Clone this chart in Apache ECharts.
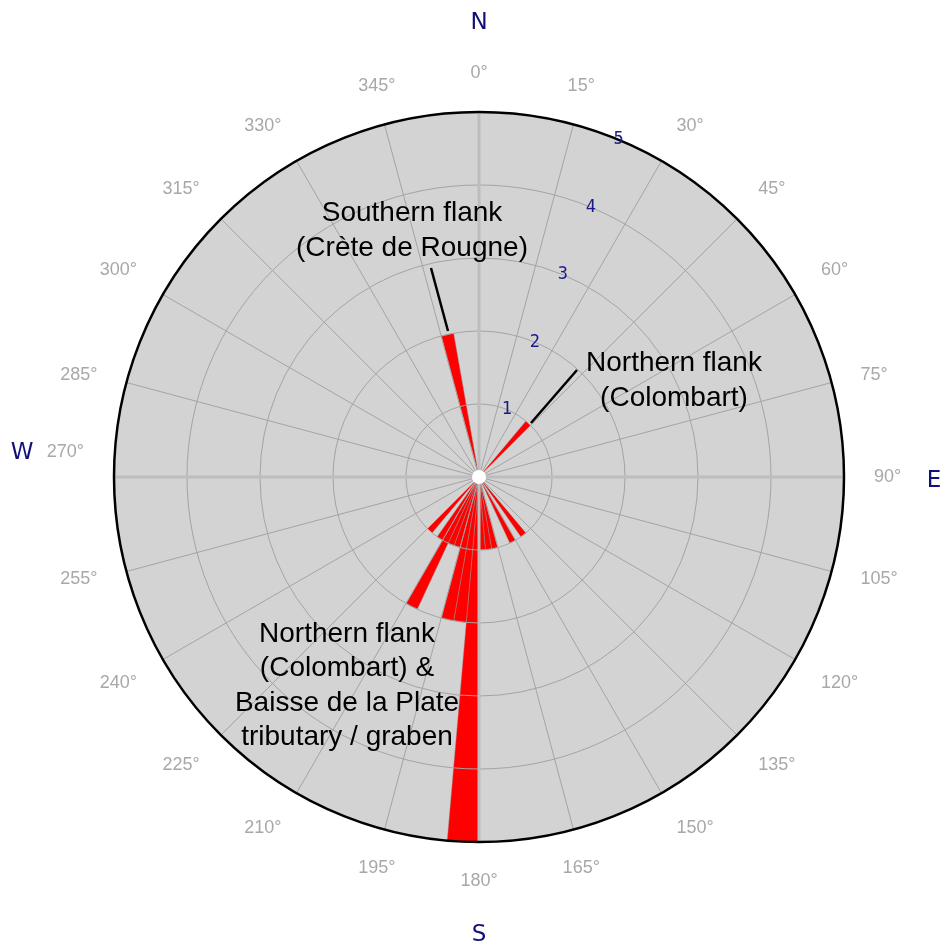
<!DOCTYPE html>
<html>
<head>
<meta charset="utf-8">
<script src="https://cdn.jsdelivr.net/npm/echarts@6/dist/echarts.min.js"></script>
<style>
  html, body { margin: 0; background: #fff; }
  #main { width: 944px; height: 945px; }
</style>
</head>
<body>
<div id="main"></div>
<script>
// rose diagram, 5 degree bins: start of each non-empty bin and its count
const binStart = [40, 140, 150, 165, 170, 175, 180, 185, 190, 195, 200, 205, 210, 220, 345];
const binCount = [1, 1, 1, 1, 1, 1, 5, 2, 2, 1, 1, 2, 1, 1, 2];
const compass = ['N', 'E', 'S', 'W'];
const notes = [
  'Southern flank\n(Crète de Rougne)',
  'Northern flank\n(Colombart)',
  'Northern flank\n(Colombart) &\nBaisse de la Plate\ntributary / graben'
];

const BIN = 5;
const cats = [];
for (let d = 0; d < 360; d += BIN) cats.push(String(d));
const counts = cats.map(function (d) {
  const i = binStart.indexOf(Number(d));
  return i < 0 ? 0 : binCount[i];
});

const C = [479, 477];
const R = 365;
const labelFont = "'Liberation Sans', Arial, sans-serif";

const hidden = {
  axisLine: { show: false }, axisTick: { show: false },
  axisLabel: { show: false }, splitLine: { show: false }
};

let chart = echarts.init(document.getElementById('main'));
chart.setOption({
  animation: false,
  polar: [0, 1, 2, 3, 4].map(function () { return { center: C, radius: R }; }),
  angleAxis: [
    // background disk
    Object.assign({}, hidden, {
      polarIndex: 0, type: 'value', min: 0, max: 360, interval: 90,
      startAngle: 90, clockwise: true, z: 0,
      splitArea: { show: true, areaStyle: { color: ['#d3d3d3'] } }
    }),
    // data bins
    Object.assign({}, hidden, {
      polarIndex: 1, type: 'category', data: cats, boundaryGap: true,
      startAngle: 90, clockwise: true
    }),
    // spokes, outer circle, degree labels (drawn above the bars)
    {
      polarIndex: 2, type: 'value', min: 0, max: 360, interval: 15,
      startAngle: 90, clockwise: true, z: 3,
      axisLine: { lineStyle: { color: '#000', width: 2.5 } },
      axisTick: { show: false },
      axisLabel: {
        margin: 30, color: '#a8a8a8', fontSize: 18, fontFamily: labelFont,
        formatter: function (v) {
          if (v === 360) return '';
          if (v === 270) return '{hi|270°}';
          return v + '°';
        },
        rich: { hi: { color: '#a8a8a8', fontSize: 18, fontFamily: labelFont, padding: [0, 0, 50, 0] } }
      },
      splitLine: { lineStyle: { color: '#a4a4a4', width: 1 } }
    },
    // N-S and E-W lines
    Object.assign({}, hidden, {
      polarIndex: 3, type: 'value', min: 0, max: 360, interval: 90,
      startAngle: 90, clockwise: true, z: 3,
      splitLine: { show: true, lineStyle: { color: '#bdbdbd', width: 3 } }
    }),
    // carrier for the radius labels, turned to 22.5 degrees
    Object.assign({}, hidden, {
      polarIndex: 4, type: 'value', min: 0, max: 360,
      startAngle: 67.5, clockwise: true
    })
  ],
  radiusAxis: [
    Object.assign({}, hidden, { polarIndex: 0, min: 0, max: 5 }),
    Object.assign({}, hidden, { polarIndex: 1, min: 0, max: 5 }),
    {
      polarIndex: 2, min: 0, max: 5, interval: 1, z: 3,
      axisLine: { show: false }, axisTick: { show: false }, axisLabel: { show: false },
      splitLine: { lineStyle: { color: '#a4a4a4', width: 1 } }
    },
    Object.assign({}, hidden, { polarIndex: 3, min: 0, max: 5 }),
    {
      polarIndex: 4, min: 0, max: 5, interval: 1, z: 4,
      axisLine: { show: false }, axisTick: { show: false }, splitLine: { show: false },
      axisLabel: {
        showMinLabel: false, margin: 0, color: '#1a1a86', fontSize: 17,
        fontFamily: "'DejaVu Sans Mono', monospace", align: 'center', verticalAlign: 'middle'
      }
    }
  ],
  series: [{
    type: 'bar',
    coordinateSystem: 'polar',
    polarIndex: 1,
    data: counts,
    barCategoryGap: '0%',
    z: 2,
    silent: true,
    itemStyle: { color: '#ff0000', borderColor: 'rgba(150,150,150,0.7)', borderWidth: 0.6 }
  }],
  graphic: [
    { type: 'circle', shape: { cx: C[0], cy: C[1], r: 7 }, style: { fill: '#fff' }, z: 10 },
    { type: 'text', x: 479, y: 23, style: { text: compass[0], font: "23px 'DejaVu Sans'", fill: '#10107a', align: 'center', verticalAlign: 'middle' }, z: 10 },
    { type: 'text', x: 934, y: 481, style: { text: compass[1], font: "23px 'DejaVu Sans'", fill: '#10107a', align: 'center', verticalAlign: 'middle' }, z: 10 },
    { type: 'text', x: 479, y: 935, style: { text: compass[2], font: "23px 'DejaVu Sans'", fill: '#10107a', align: 'center', verticalAlign: 'middle' }, z: 10 },
    { type: 'text', x: 22, y: 453, style: { text: compass[3], font: "23px 'DejaVu Sans'", fill: '#10107a', align: 'center', verticalAlign: 'middle' }, z: 10 },
    { type: 'text', x: 412, y: 231, style: { text: notes[0], font: "28px 'Liberation Sans'", lineHeight: 35, fill: '#000', align: 'center', verticalAlign: 'middle' }, z: 10 },
    { type: 'text', x: 674, y: 381, style: { text: notes[1], font: "28px 'Liberation Sans'", lineHeight: 35, fill: '#000', align: 'center', verticalAlign: 'middle' }, z: 10 },
    { type: 'text', x: 347, y: 686, style: { text: notes[2], font: "28px 'Liberation Sans'", lineHeight: 34.5, fill: '#000', align: 'center', verticalAlign: 'middle' }, z: 10 },
    { type: 'line', shape: { x1: 431, y1: 268, x2: 448, y2: 331 }, style: { stroke: '#000', lineWidth: 2.5 }, z: 10 },
    { type: 'line', shape: { x1: 577, y1: 370, x2: 531, y2: 423 }, style: { stroke: '#000', lineWidth: 2.5 }, z: 10 }
  ]
});
</script>
</body>
</html>
